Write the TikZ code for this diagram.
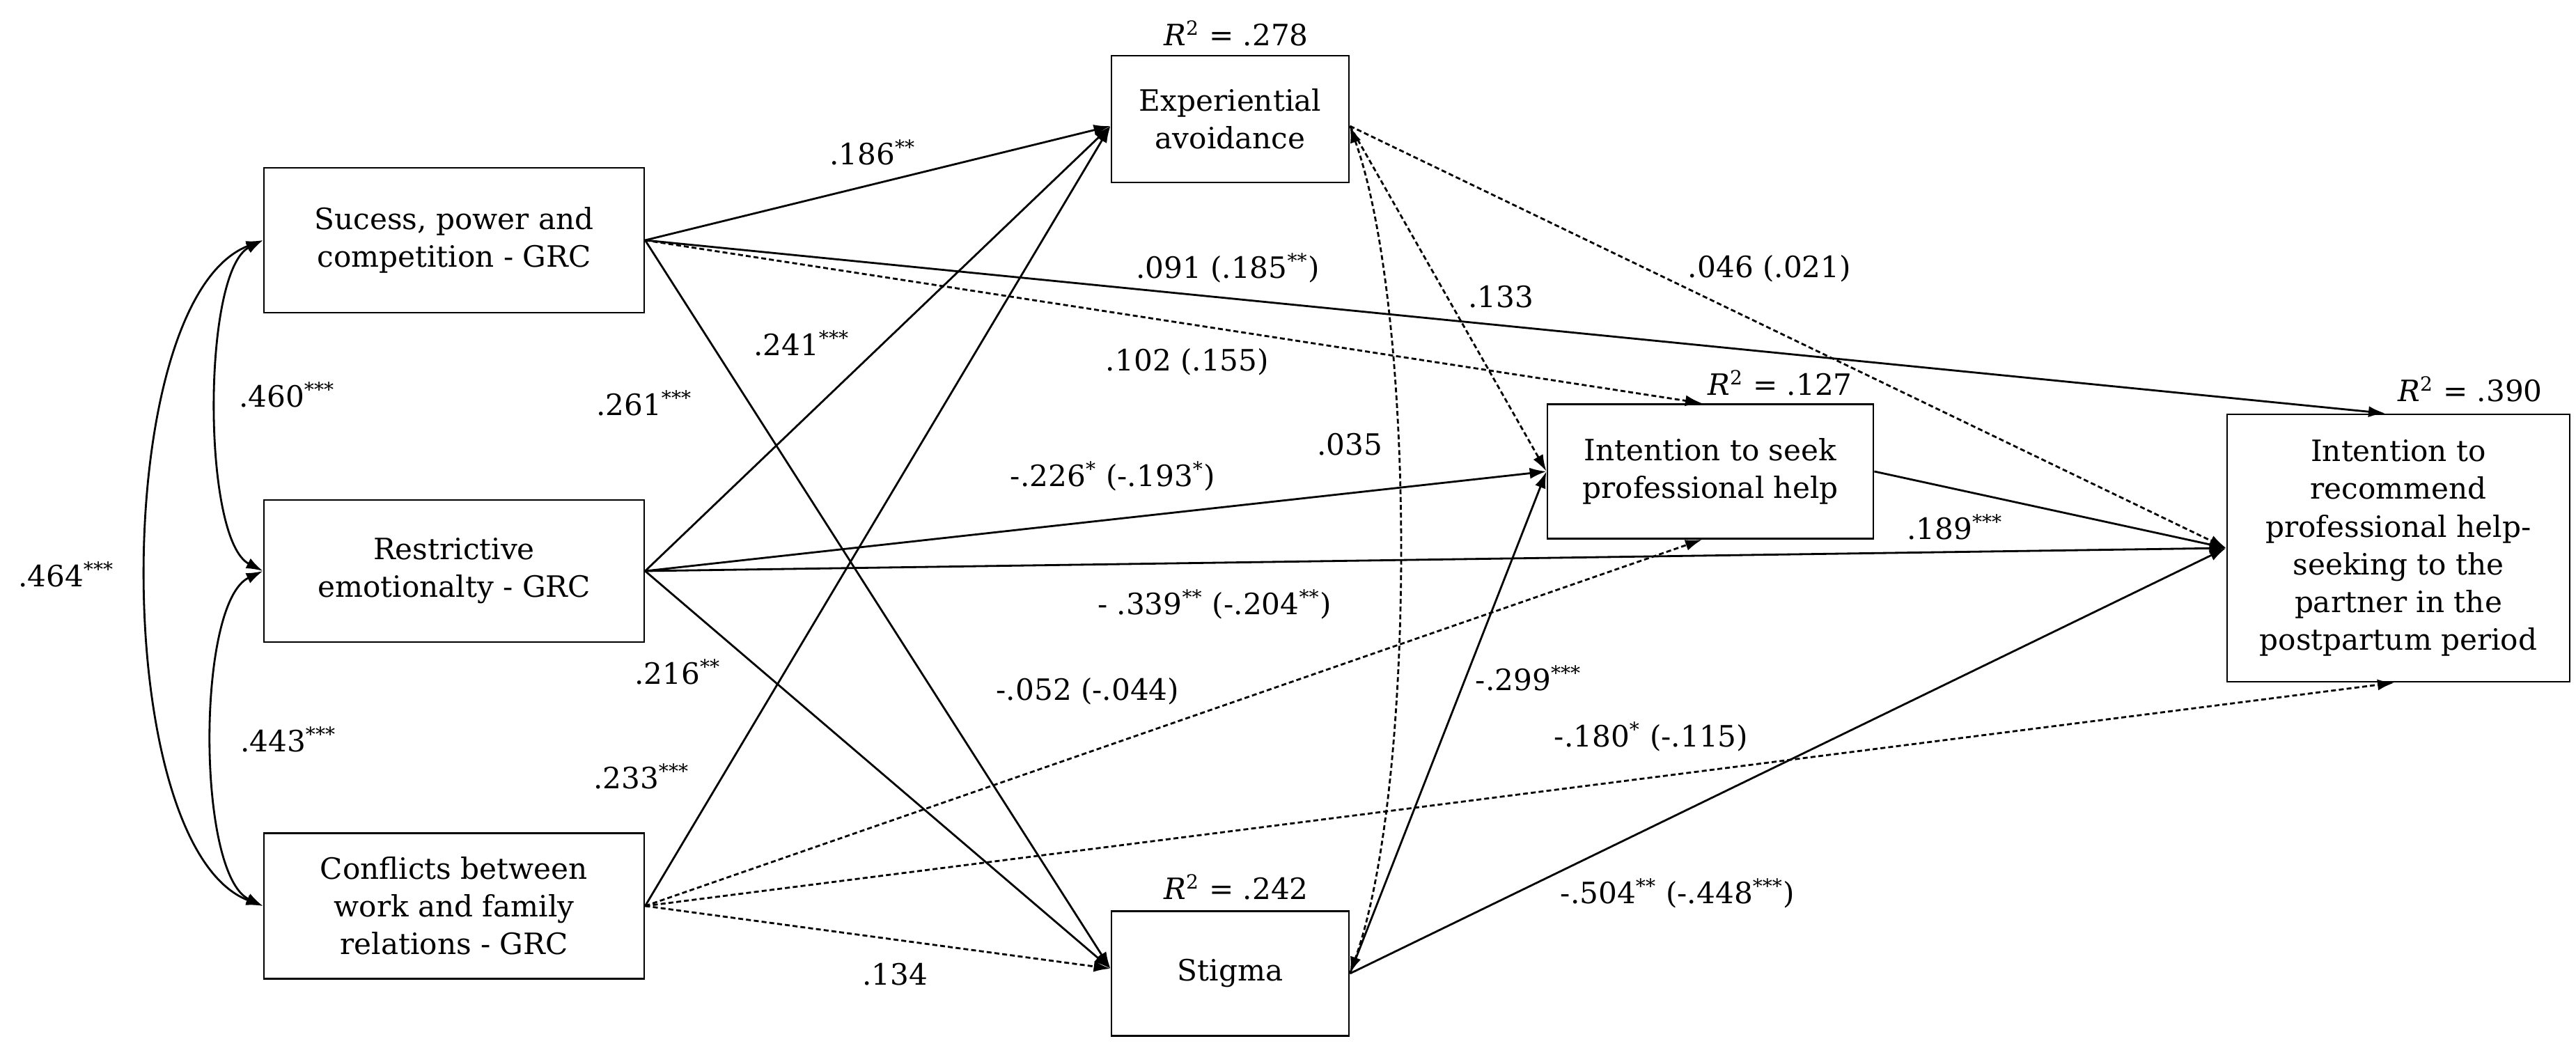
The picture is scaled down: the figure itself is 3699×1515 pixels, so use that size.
\documentclass[tikz,border=0pt]{standalone}
\usepackage{fontspec}
\setmainfont{DejaVu Serif}
\usetikzlibrary{arrows.meta}
\begin{document}
\begin{tikzpicture}[x=0.1mm,y=-0.1mm,
  box/.style={draw,line width=0.8pt,align=center,inner sep=0pt,font=\fontsize{12}{15.4}\selectfont},
  lbl/.style={font=\fontsize{12}{15.4}\selectfont,inner sep=1pt},
  eff/.style={line width=0.8pt,-{Latex[length=2.4mm,width=1.6mm]}},
  nseff/.style={eff,dash pattern=on 2pt off 1.2pt},
  cov/.style={line width=0.8pt,{Latex[length=2.4mm,width=1.6mm]}-{Latex[length=2.4mm,width=1.6mm]}},
  nscov/.style={cov,dash pattern=on 2pt off 1.2pt}
]
\useasboundingbox (0,0) rectangle (3699,1515);

% boxes
\node[box,minimum width=54.6mm,minimum height=20.8mm] (A) at (652,345) {Sucess, power and\\competition - GRC};
\node[box,minimum width=54.6mm,minimum height=20.4mm] (B) at (652,820) {Restrictive\\emotionalty - GRC};
\node[box,minimum width=54.6mm,minimum height=20.9mm] (C) at (652,1301) {Conflicts between\\work and family\\relations - GRC};
\node[box,minimum width=34.1mm,minimum height=18.2mm] (E) at (1766.5,171) {Experiential\\avoidance};
\node[box,minimum width=34.1mm,minimum height=17.9mm] (S) at (1766.5,1398) {Stigma};
\node[box,minimum width=46.8mm,minimum height=19.3mm] (F) at (2456,677) {Intention to seek\\professional help};
\node[box,minimum width=49.2mm,minimum height=38.4mm] (D) at (3444,787) {Intention to\\recommend\\professional help-\\seeking to the\\partner in the\\postpartum period};

% R squared
\node[lbl] (rE) at (1775,48) {\textit{R}\textsuperscript{2} = .278};
\node[lbl] (rS) at (1775,1274) {\textit{R}\textsuperscript{2} = .242};
\node[lbl] (rF) at (2556,550) {\textit{R}\textsuperscript{2} = .127};
\node[lbl] (rD) at (3547,559) {\textit{R}\textsuperscript{2} = .390};

% covariances
\draw[cov] (A.west) .. controls (290,390) and (290,775) .. (B.west);
\draw[cov] (B.west) .. controls (282,865) and (282,1255) .. (C.west);
\draw[cov] (A.west) .. controls (156,430) and (156,1216) .. (C.west);

% paths from A
\draw[eff] (A.east) -- ([yshift=-1mm]E.west);
\draw[eff] (A.east) -- ([xshift=-1.9mm]D.north);
\draw[nseff] (A.east) -- ([xshift=-1.2mm]F.north);
\draw[eff] (A.east) -- ([yshift=0.7mm]S.west);
% paths from B
\draw[eff] (B.east) -- ([yshift=-1mm]E.west);
\draw[eff] (B.east) -- (F.west);
\draw[eff] (B.east) -- (D.west);
\draw[eff] (B.east) -- ([yshift=0.7mm]S.west);
% paths from C
\draw[eff] (C.east) -- ([yshift=-1mm]E.west);
\draw[nseff] (C.east) -- ([xshift=-1.2mm]F.south);
\draw[nseff] (C.east) -- ([xshift=-0.6mm]D.south);
\draw[nseff] (C.east) -- ([yshift=0.7mm]S.west);
% mediators
\draw[nseff] ([yshift=-1mm]E.east) -- (F.west);
\draw[nseff] ([yshift=-1mm]E.east) -- (D.west);
\draw[eff] (S.east) -- (F.west);
\draw[eff] (S.east) -- (D.west);
\draw[eff] (F.east) -- (D.west);
\draw[nscov] ([yshift=-1mm]E.east) .. controls (2034,450) and (2034,1130) .. (S.east);

% labels
\node[lbl] (l460) at (412,567) {.460\textsuperscript{***}};
\node[lbl] (l464) at (95,825) {.464\textsuperscript{***}};
\node[lbl] (l443) at (414,1062) {.443\textsuperscript{***}};
\node[lbl] (l186) at (1253,219) {.186\textsuperscript{**}};
\node[lbl] (l241) at (1151,493) {.241\textsuperscript{***}};
\node[lbl] (l261) at (925,579) {.261\textsuperscript{***}};
\node[lbl] (l216) at (973,965) {.216\textsuperscript{**}};
\node[lbl] (l233) at (921,1115) {.233\textsuperscript{***}};
\node[lbl] (l134) at (1285,1399) {.134};
\node[lbl] (l091) at (1763,385) {.091 (.185\textsuperscript{**})};
\node[lbl] (l102) at (1705,520) {.102 (.155)};
\node[lbl] (l133) at (2155,426) {.133};
\node[lbl] (l046) at (2541,386) {.046 (.021)};
\node[lbl] (l035) at (1938,638) {.035};
\node[lbl] (l226) at (1598,684) {-.226\textsuperscript{*} (-.193\textsuperscript{*})};
\node[lbl] (l339) at (1744,868) {- .339\textsuperscript{**} (-.204\textsuperscript{**})};
\node[lbl] (l052) at (1562,993) {-.052 (-.044)};
\node[lbl] (l299) at (2195,974) {-.299\textsuperscript{***}};
\node[lbl] (l189) at (2807,757) {.189\textsuperscript{***}};
\node[lbl] (l180) at (2371,1058) {-.180\textsuperscript{*} (-.115)};
\node[lbl] (l504) at (2409,1283) {-.504\textsuperscript{**} (-.448\textsuperscript{***})};
\end{tikzpicture}
\end{document}
